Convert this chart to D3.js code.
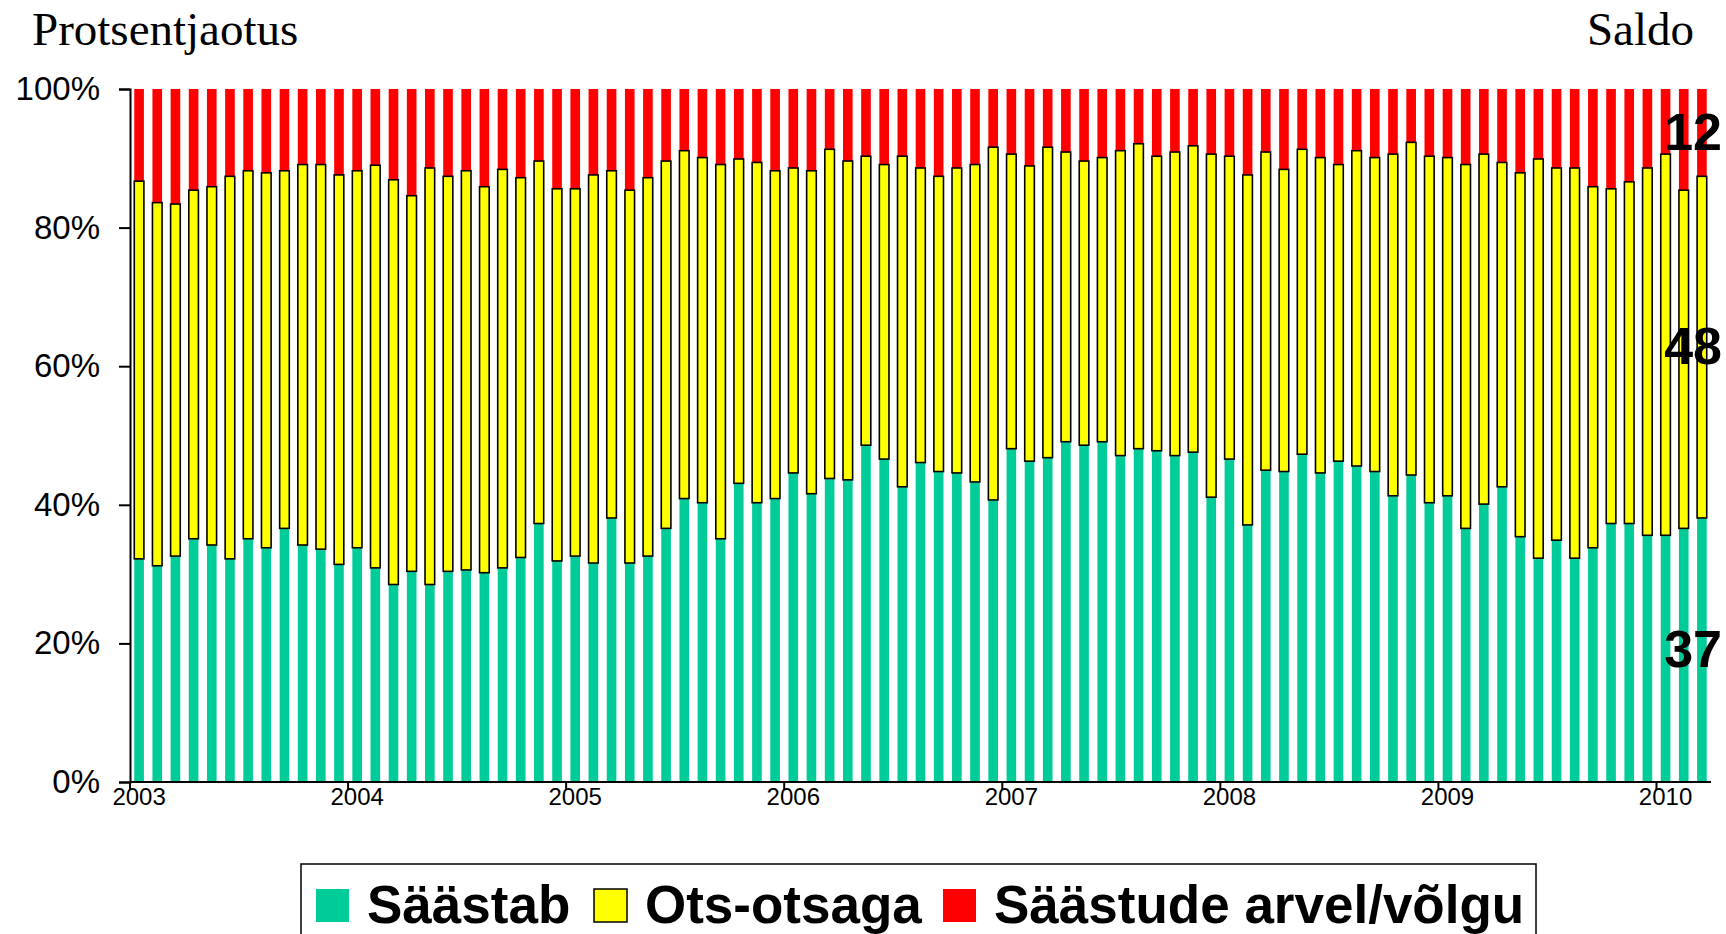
<!DOCTYPE html>
<html>
<head>
<meta charset="utf-8">
<script src="https://cdn.jsdelivr.net/npm/d3@7"></script>
<style>
  body { margin: 0; background: #fff; }
  svg { display: block; }
</style>
</head>
<body>
<svg id="chart" width="1726" height="934"></svg>
<script>
// monthly shares, Jan 2003 .. Mar 2010 (percent)
var saastab = [
  32.2, 31.2, 32.6, 35.1, 34.2, 32.2, 35.1, 33.8, 36.6, 34.2, 33.6, 31.4,
  33.8, 30.9, 28.5, 30.4, 28.5, 30.4, 30.6, 30.2, 30.9, 32.4, 37.3, 31.9,
  32.6, 31.6, 38.1, 31.6, 32.6, 36.6, 40.9, 40.3, 35.1, 43.1, 40.3, 40.9,
  44.6, 41.6, 43.8, 43.6, 48.6, 46.6, 42.6, 46.1, 44.8, 44.6, 43.3, 40.7,
  48.1, 46.3, 46.8, 49.1, 48.6, 49.1, 47.1, 48.1, 47.8, 47.1, 47.6, 41.1,
  46.6, 37.1, 45.0, 44.8, 47.3, 44.6, 46.3, 45.6, 44.8, 41.3, 44.3, 40.3,
  41.3, 36.6, 40.1, 42.6, 35.4, 32.3, 34.9, 32.3, 33.8, 37.3, 37.3, 35.6,
  35.6, 36.6, 38.1
];
var otsOtsaga = [
  54.5, 52.4, 50.8, 50.3, 51.7, 55.2, 53.1, 54.1, 51.6, 54.9, 55.5, 56.2,
  54.4, 58.1, 58.4, 54.2, 60.1, 57.0, 57.6, 55.7, 57.5, 54.8, 52.3, 53.7,
  53.0, 56.0, 50.1, 53.8, 54.6, 53.0, 50.2, 49.8, 54.0, 46.8, 49.1, 47.3,
  44.0, 46.6, 47.5, 46.0, 41.7, 42.5, 47.7, 42.5, 42.6, 44.0, 45.8, 50.9,
  42.5, 42.6, 44.8, 41.8, 41.0, 41.0, 44.0, 44.0, 42.5, 43.8, 44.2, 49.5,
  43.7, 50.5, 45.9, 43.6, 44.0, 45.5, 42.8, 45.5, 45.3, 49.3, 48.0, 50.0,
  48.8, 52.5, 50.5, 46.8, 52.5, 57.6, 53.7, 56.3, 52.1, 48.3, 49.3, 53.0,
  55.0, 48.8, 49.3
];
var volgu = [
  13.3, 16.4, 16.6, 14.6, 14.1, 12.6, 11.8, 12.1, 11.8, 10.9, 10.9, 12.4,
  11.8, 11.0, 13.1, 15.4, 11.4, 12.6, 11.8, 14.1, 11.6, 12.8, 10.4, 14.4,
  14.4, 12.4, 11.8, 14.6, 12.8, 10.4, 8.9, 9.9, 10.9, 10.1, 10.6, 11.8,
  11.4, 11.8, 8.7, 10.4, 9.7, 10.9, 9.7, 11.4, 12.6, 11.4, 10.9, 8.4,
  9.4, 11.1, 8.4, 9.1, 10.4, 9.9, 8.9, 7.9, 9.7, 9.1, 8.2, 9.4,
  9.7, 12.4, 9.1, 11.6, 8.7, 9.9, 10.9, 8.9, 9.9, 9.4, 7.7, 9.7,
  9.9, 10.9, 9.4, 10.6, 12.1, 10.1, 11.4, 11.4, 14.1, 14.4, 13.4, 11.4,
  9.4, 14.6, 12.6
];
var years = ["2003", "2004", "2005", "2006", "2007", "2008", "2009", "2010"];
var yTicks = [0, 20, 40, 60, 80, 100];
var seriesKeys = ["g", "y", "r"];
var seriesNames = ["Säästab", "Ots-otsaga", "Säästude arvel/võlgu"];
var seriesColors = ["#00cc99", "#ffff00", "#ff0000"];
var saldoLabels = ["37", "48", "12"];

var sans = "'Liberation Sans', Arial, sans-serif";
var serif = "'Liberation Serif', 'Times New Roman', serif";

// month keys, first year label sits on each January
var months = [];
for (var i = 0; i < saastab.length; i++) {
    months.push(years[0] * 1 + Math.floor(i / 12) + "-" + (i % 12 + 1));
}
var rows = months.map(function(m, i) {
    return {m: m, g: saastab[i], y: otsOtsaga[i], r: volgu[i]};
});

// note: "top" is taken by window.top, so plot* names
var plotLeft = 130, plotRight = 1711, plotTop = 89, plotBottom = 782;
var svg = d3.select("#chart");

var x = d3.scaleBand()
        .domain(months)
        .range([plotLeft, plotRight])
        .paddingInner(0.47)
        .paddingOuter(0.235);
var y = d3.scaleLinear()
        .domain([0, 100])
        .range([plotBottom, plotTop]);

var stack = d3.stack().keys(seriesKeys)(rows);

// green and red first, yellow last so its outline sits on top
[0, 2, 1].forEach(function(k) {
    svg.append("g")
        .selectAll("rect")
        .data(stack[k])
        .enter().append("rect")
        .attr("x", function(d) { return x(d.data.m); })
        .attr("width", x.bandwidth())
        .attr("y", function(d) { return y(d[1]); })
        .attr("height", function(d) { return y(d[0]) - y(d[1]); })
        .style("fill", seriesColors[k])
        .style("stroke", k == 1 ? "#000" : "none")
        .style("stroke-width", k == 1 ? 1.6 : 0);
});

// y axis
var yAxis = svg.append("g")
        .attr("transform", "translate(" + plotLeft + ",0)")
        .call(d3.axisLeft(y).tickValues(yTicks).tickSize(11)
              .tickFormat(function(d) { return d + "%"; }));
yAxis.select(".domain").attr("stroke", "#000").attr("stroke-width", 2);
yAxis.selectAll(".tick line").attr("stroke", "#000").attr("stroke-width", 2);
yAxis.selectAll("text")
    .attr("x", -30)
    .style("font-family", sans)
    .style("font-size", "33px")
    .attr("fill", "#000");

// x axis: ticks at year boundaries, labels under each January
var step = x.step();
var yearStart = function(i) { return plotLeft + i * 12 * step; };
svg.append("line")
    .attr("x1", plotLeft).attr("x2", plotRight)
    .attr("y1", plotBottom).attr("y2", plotBottom)
    .attr("stroke", "#000").attr("stroke-width", 2);
svg.append("g").selectAll("line")
    .data(years)
    .enter().append("line")
    .attr("x1", function(d, i) { return yearStart(i); })
    .attr("x2", function(d, i) { return yearStart(i); })
    .attr("y1", plotBottom).attr("y2", plotBottom + 8)
    .attr("stroke", "#000").attr("stroke-width", 2);
svg.append("g").selectAll("text")
    .data(years)
    .enter().append("text")
    .attr("x", function(d, i) { return x(months[i * 12]) + x.bandwidth() / 2; })
    .attr("y", 805)
    .attr("text-anchor", "middle")
    .style("font-family", sans)
    .style("font-size", "24px")
    .text(function(d) { return d; });

// headings
svg.append("text")
    .attr("x", 32).attr("y", 45)
    .style("font-family", serif)
    .style("font-size", "47px")
    .text("Protsentjaotus");
svg.append("text")
    .attr("x", 1694).attr("y", 45)
    .attr("text-anchor", "end")
    .style("font-family", serif)
    .style("font-size", "47px")
    .text("Saldo");

// balance numbers at the middle of each segment of the last bar
var last = rows.length - 1;
svg.append("g").selectAll("text")
    .data(stack)
    .enter().append("text")
    .attr("x", 1722)
    .attr("y", function(s) { return y((s[last][0] + s[last][1]) / 2); })
    .attr("dy", "0.33em")
    .attr("text-anchor", "end")
    .style("font-family", sans)
    .style("font-size", "52px")
    .style("font-weight", "bold")
    .text(function(s, i) { return saldoLabels[i]; });

// legend
var legend = svg.append("g");
legend.append("rect")
    .attr("x", 301).attr("y", 864)
    .attr("width", 1235).attr("height", 100)
    .style("fill", "#fff")
    .style("stroke", "#000")
    .style("stroke-width", 1.5);
var legendX = [316, 594, 943];
seriesNames.forEach(function(name, i) {
    legend.append("rect")
        .attr("x", legendX[i]).attr("y", 889)
        .attr("width", 33).attr("height", 33)
        .style("fill", seriesColors[i])
        .style("stroke", i == 1 ? "#000" : "none")
        .style("stroke-width", 1.5);
    legend.append("text")
        .attr("x", legendX[i] + 51).attr("y", 923)
        .style("font-family", sans)
        .style("font-size", "53px")
        .style("font-weight", "bold")
        .text(name);
});
</script>
</body>
</html>
